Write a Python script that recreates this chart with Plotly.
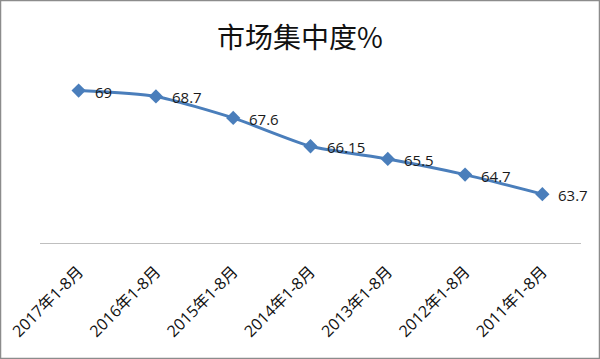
import plotly.graph_objects as go

categories = ["2017年1-8月", "2016年1-8月", "2015年1-8月", "2014年1-8月",
              "2013年1-8月", "2012年1-8月", "2011年1-8月"]
values = [69, 68.7, 67.6, 66.15, 65.5, 64.7, 63.7]
labels = ["69", "68.7", "67.6", "66.15", "65.5", "64.7", "63.7"]

W, H = 600, 359
ml, mr, mt, mb = 40, 19, 71, 116
pw, ph = W - ml - mr, H - mt - mb

xs = list(range(len(categories)))

fig = go.Figure(go.Scatter(
    x=xs, y=values,
    mode="lines+markers",
    line=dict(color="#4A7EBB", width=3, shape="spline", smoothing=0.6),
    marker=dict(symbol="diamond", size=11, color="#4A7EBB"),
    cliponaxis=False, hoverinfo="skip",
))

annotations = [dict(
    x=x, y=v, xref="x", yref="y", text=t, showarrow=False,
    xanchor="left", yanchor="middle", xshift=14, yshift=-1,
    font=dict(family="Open Sans, Noto Sans CJK SC", size=15, color="#1A1A1A"),
) for x, v, t in zip(xs, values, labels)]

fig.update_layout(
    width=W, height=H,
    margin=dict(l=ml, r=mr, t=mt, b=mb, autoexpand=False),
    paper_bgcolor="white", plot_bgcolor="white",
    showlegend=False,
    annotations=annotations,
    title=dict(text="市场集中度%", x=0.5, xanchor="center", y=1 - 38 / H, yanchor="middle",
               font=dict(family="Noto Sans CJK SC", size=28, color="#111111")),
    xaxis=dict(
        tickmode="array", tickvals=xs, ticktext=categories,
        range=[-0.5, len(categories) - 0.5],
        tickangle=-45, showgrid=False, zeroline=False, automargin=False,
        showline=True, linecolor="#BFBFBF", linewidth=1,
        ticks="outside", ticklen=12, tickcolor="rgba(0,0,0,0)",
        tickfont=dict(family="Open Sans, Noto Sans CJK SC", size=16, color="#111111"),
    ),
    yaxis=dict(range=[61.2, 70], visible=False, showgrid=False, zeroline=False),
    shapes=[dict(
        type="rect", xref="paper", yref="paper",
        x0=(-ml + 0.5) / pw, x1=1 + (mr - 0.5) / pw,
        y0=(-mb + 0.5) / ph, y1=1 + (mt - 0.5) / ph,
        line=dict(color="#8C8C8C", width=1.5), fillcolor="rgba(0,0,0,0)", layer="above",
    )],
)

fig.write_html("out.html", config={"displayModeBar": False},
               post_script="document.body.style.margin='0';")
